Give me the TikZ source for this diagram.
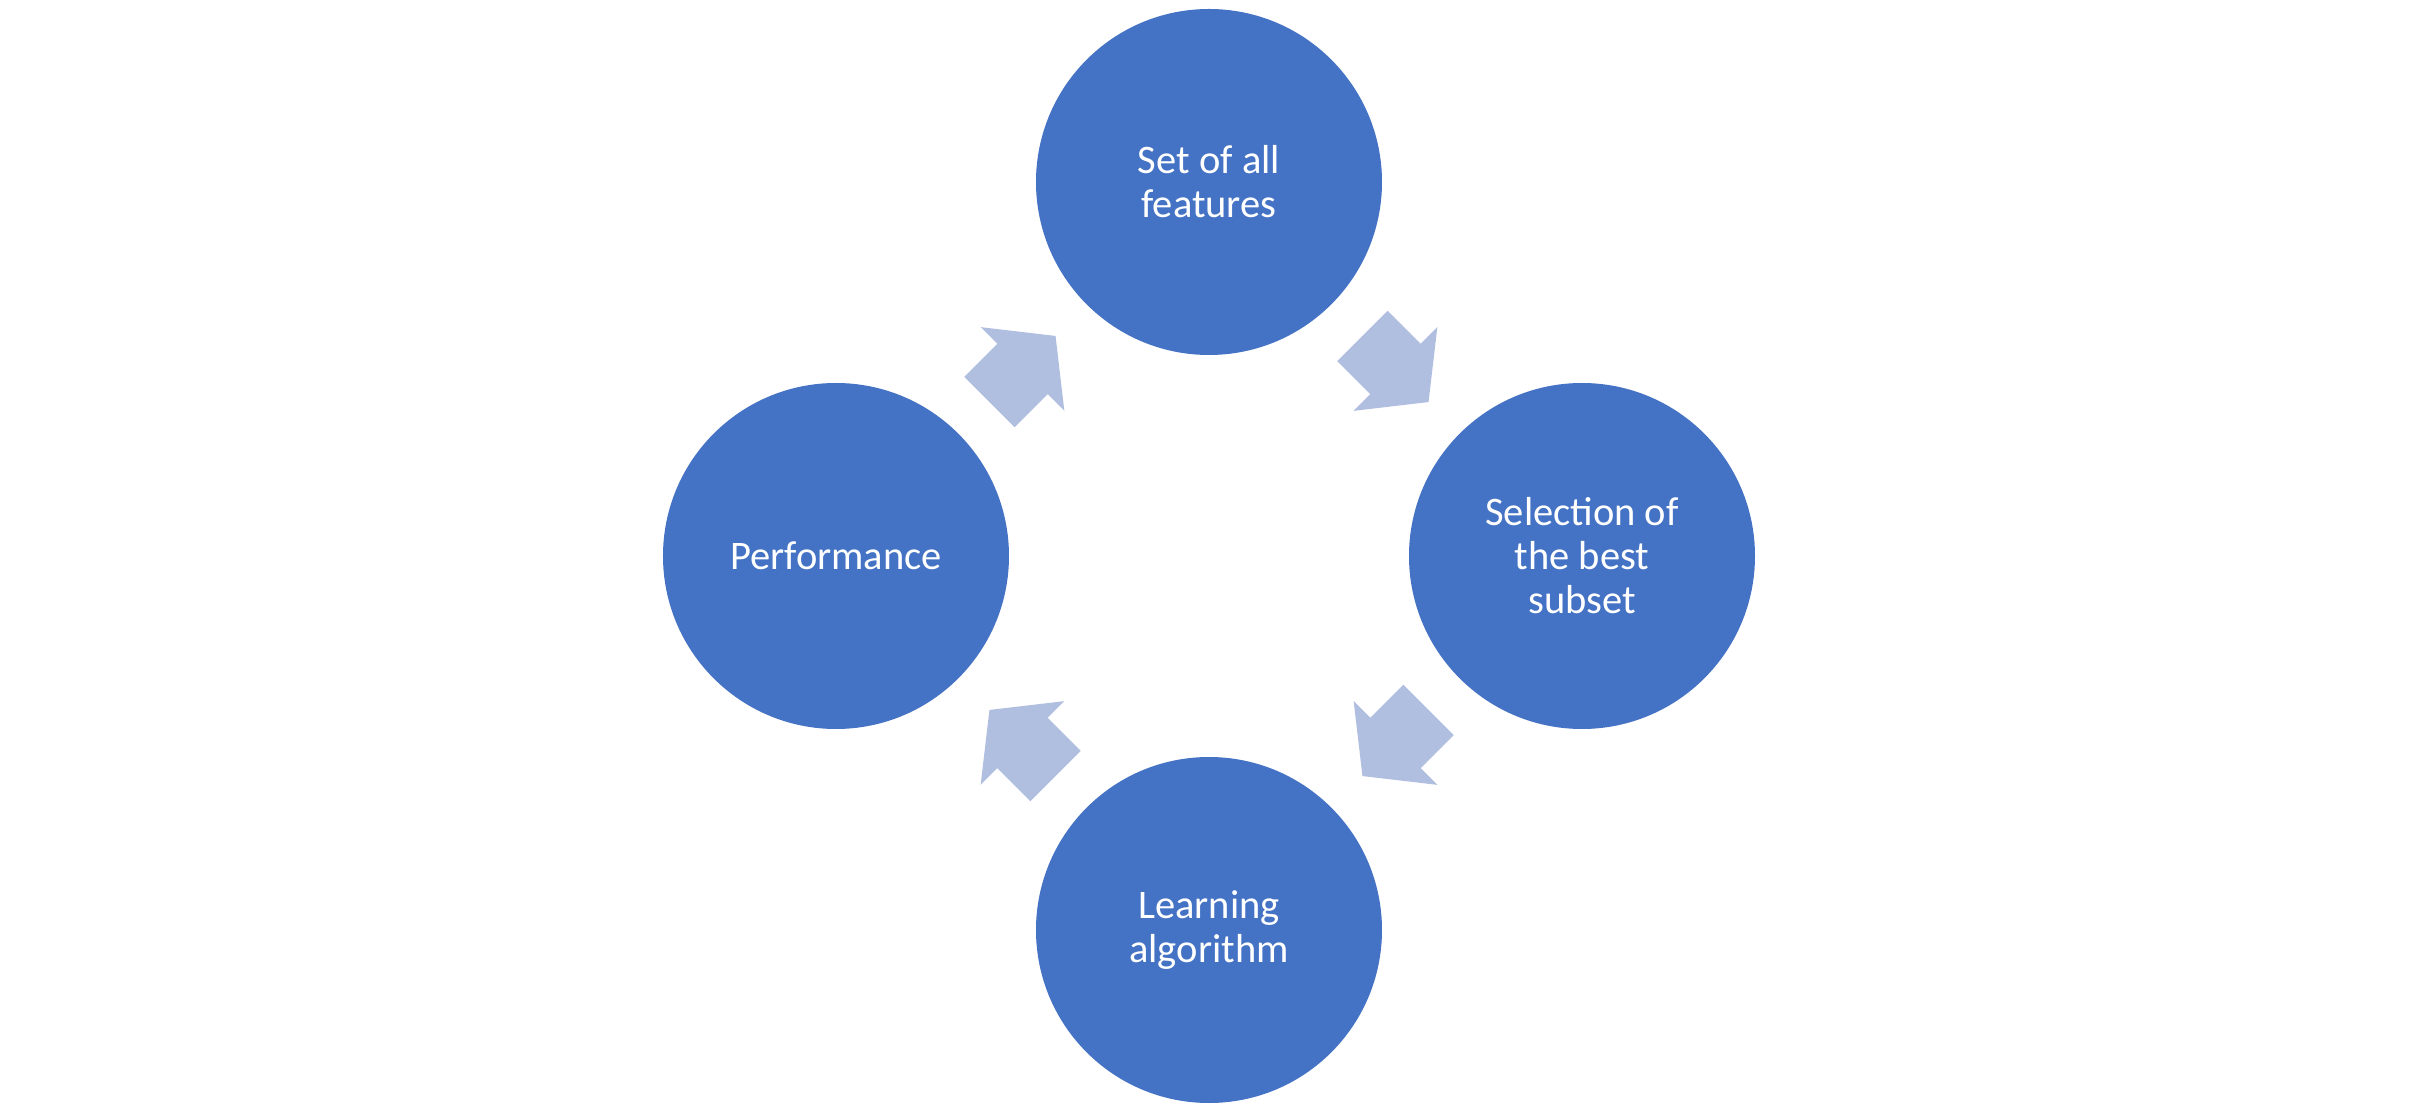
\documentclass[tikz,border=0pt]{standalone}
\usepackage{fontspec}
\setmainfont{Carlito}
\usepackage{tikz}
\usetikzlibrary{calc}
\definecolor{stageblue}{RGB}{68,114,196}
\definecolor{arrowblue}{RGB}{176,190,223}

\begin{document}
\begin{tikzpicture}[line cap=round,line join=round,x=0.5pt,y=0.5pt,
  stage/.style={circle,fill=stageblue,minimum size=173pt,inner sep=0pt,
    text=white,align=center,font=\fontsize{20.25}{22}\selectfont},
  cyclearrow/.style={fill=arrowblue}]
\useasboundingbox (-1209,-557) rectangle (1211,556);
\node[stage] (feat) at (0,374) {Set of all\\features};
\node[stage] (sel) at (373,0) {Selection of\\the best\\subset};
\node[stage] (learn) at (0,-374) {Learning\\algorithm};
\node[stage] (perf) at (-373,0) {Performance};
\foreach \from/\to/\ang in {feat/sel/-45,sel/learn/-135,learn/perf/135,perf/feat/45}
  \fill[cyclearrow,shift={($(\from)!0.5!(\to)$)},rotate=\ang]
    (-46.75,35.6) -- (0,35.6) -- (0,59.2) -- (46.75,0) -- (0,-59.2) -- (0,-35.6) -- (-46.75,-35.6) -- cycle;
\end{tikzpicture}
\end{document}
